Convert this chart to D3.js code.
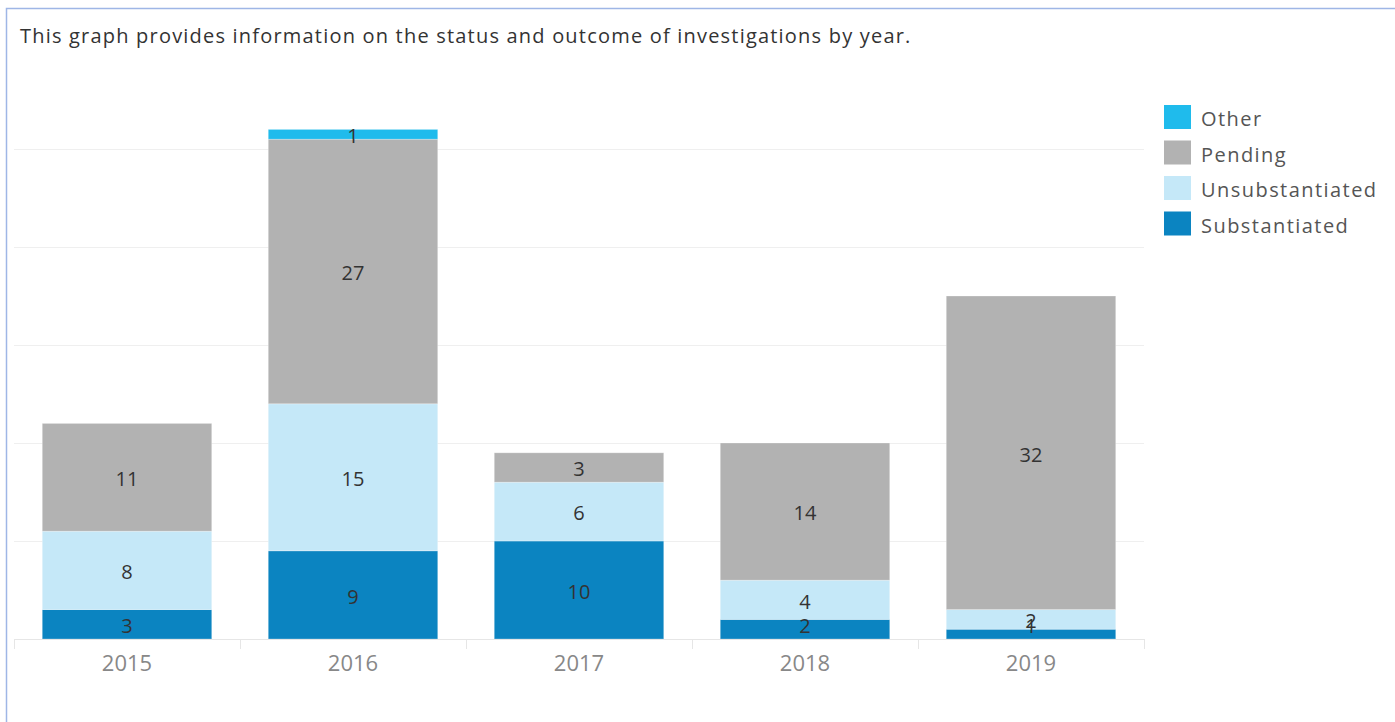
<!DOCTYPE html>
<html>
<head>
<meta charset="utf-8">
<script src="https://cdn.jsdelivr.net/npm/d3@7"></script>
<style>
body { margin: 0; background: #fff; font-family: "Open Sans", sans-serif; }
svg { display: block; }
</style>
</head>
<body>
<script>
// data
var years = ['2015', '2016', '2017', '2018', '2019'];
var outcomes = ['Substantiated', 'Unsubstantiated', 'Pending', 'Other'];
var substantiated = [3, 9, 10, 2, 1];
var unsubstantiated = [8, 15, 6, 4, 2];
var pending = [11, 27, 3, 14, 32];
var other = [0, 1, 0, 0, 0];
var gridTicks = [0, 10, 20, 30, 40, 50];
var legendOrder = ['Other', 'Pending', 'Unsubstantiated', 'Substantiated'];
var colors = ['#0b84c1', '#c5e8f8', '#b2b2b2', '#1fbbec'];

var width = 1395, height = 722;

var svg = d3.select('body').append('svg')
	.attr('width', width)
	.attr('height', height);

// frame
svg.append('path')
	.attr('d', 'M6.5,' + height + 'V8.5H' + width)
	.attr('fill', 'none')
	.attr('stroke', '#9fb6e6')
	.attr('stroke-width', 1.5);

svg.append('text')
	.attr('x', 20)
	.attr('y', 43)
	.attr('fill', '#333')
	.style('font-size', '20px')
	.style('letter-spacing', '1.2px')
	.text('This graph provides information on the status and outcome of investigations by year.');

// build table for the stack
var table = years.map(function(y, i) {
	return {
		year: y,
		Substantiated: substantiated[i],
		Unsubstantiated: unsubstantiated[i],
		Pending: pending[i],
		Other: other[i]
	};
});
var series = d3.stack().keys(outcomes)(table);

var x = d3.scaleBand()
	.domain(years)
	.range([14, 1144])
	.paddingInner(0.25)
	.paddingOuter(0.125);

var y = d3.scaleLinear()
	.domain([0, 50])
	.range([639, 149]);

var color = d3.scaleOrdinal().domain(outcomes).range(colors);

// gridlines
svg.append('g')
	.selectAll('line')
	.data(gridTicks.slice(1))
	.enter().append('line')
	.attr('x1', 14)
	.attr('x2', 1144)
	.attr('y1', function(d) { return Math.round(y(d)) + 0.5; })
	.attr('y2', function(d) { return Math.round(y(d)) + 0.5; })
	.attr('stroke', '#efefef')
	.attr('stroke-width', 1);

// bars
var layer = svg.append('g')
	.selectAll('g')
	.data(series)
	.enter().append('g')
	.attr('fill', function(d) { return color(d.key); });

layer.selectAll('rect')
	.data(function(d) { return d; })
	.enter().append('rect')
	.attr('x', function(d) { return x(d.data.year); })
	.attr('width', x.bandwidth())
	.attr('y', function(d) { return y(d[1]); })
	.attr('height', function(d) { return y(d[0]) - y(d[1]); })
	.attr('stroke', 'rgba(255,255,255,0.35)')
	.attr('stroke-width', 0.8);

// segment labels on top of every bar (kept clear of the baseline, like tableau does)
var segments = [];
series.forEach(function(s) {
	s.forEach(function(p) {
		if (p[1] - p[0] > 0) segments.push(p);
	});
});
var labelMax = y(0) - 13;
svg.append('g')
	.selectAll('text')
	.data(segments)
	.enter().append('text')
	.attr('x', function(d) { return x(d.data.year) + x.bandwidth() / 2; })
	.attr('y', function(d) { return Math.min((y(d[0]) + y(d[1])) / 2 + 1.5, labelMax); })
	.attr('dy', '0.36em')
	.attr('text-anchor', 'middle')
	.attr('fill', '#333')
	.style('font-size', '20px')
	.text(function(d) { return d[1] - d[0]; });

// x axis
var xAxis = svg.append('g')
	.attr('transform', 'translate(0,639)')
	.call(d3.axisBottom(x).tickSize(0).tickPadding(16));
xAxis.select('.domain').attr('stroke', '#e6e6e6').attr('d', 'M14,0.5H1144');
xAxis.selectAll('text')
	.attr('fill', '#888')
	.style('font-size', '22px')
	.style('font-family', '"Open Sans", sans-serif');

// separators between categories
var edges = years.map(function(yr) { return x(yr) - x.step() * x.paddingInner() / 2; });
edges.push(1144);
svg.append('g')
	.selectAll('line')
	.data(edges)
	.enter().append('line')
	.attr('x1', function(d) { return Math.round(d) + 0.5; })
	.attr('x2', function(d) { return Math.round(d) + 0.5; })
	.attr('y1', 639)
	.attr('y2', 649)
	.attr('stroke', '#e6e6e6');

// legend
var legend = svg.append('g')
	.attr('transform', 'translate(1164,105)')
	.selectAll('g')
	.data(legendOrder)
	.enter().append('g')
	.attr('transform', function(d, i) { return 'translate(0,' + (i * 35.5) + ')'; });

legend.append('rect')
	.attr('width', 27)
	.attr('height', 24)
	.attr('fill', function(d) { return color(d); });

legend.append('text')
	.attr('x', 37)
	.attr('y', 12)
	.attr('dy', '0.45em')
	.attr('fill', '#555')
	.style('font-size', '20px')
	.style('letter-spacing', '1.45px')
	.text(function(d) { return d; });
</script>
</body>
</html>
